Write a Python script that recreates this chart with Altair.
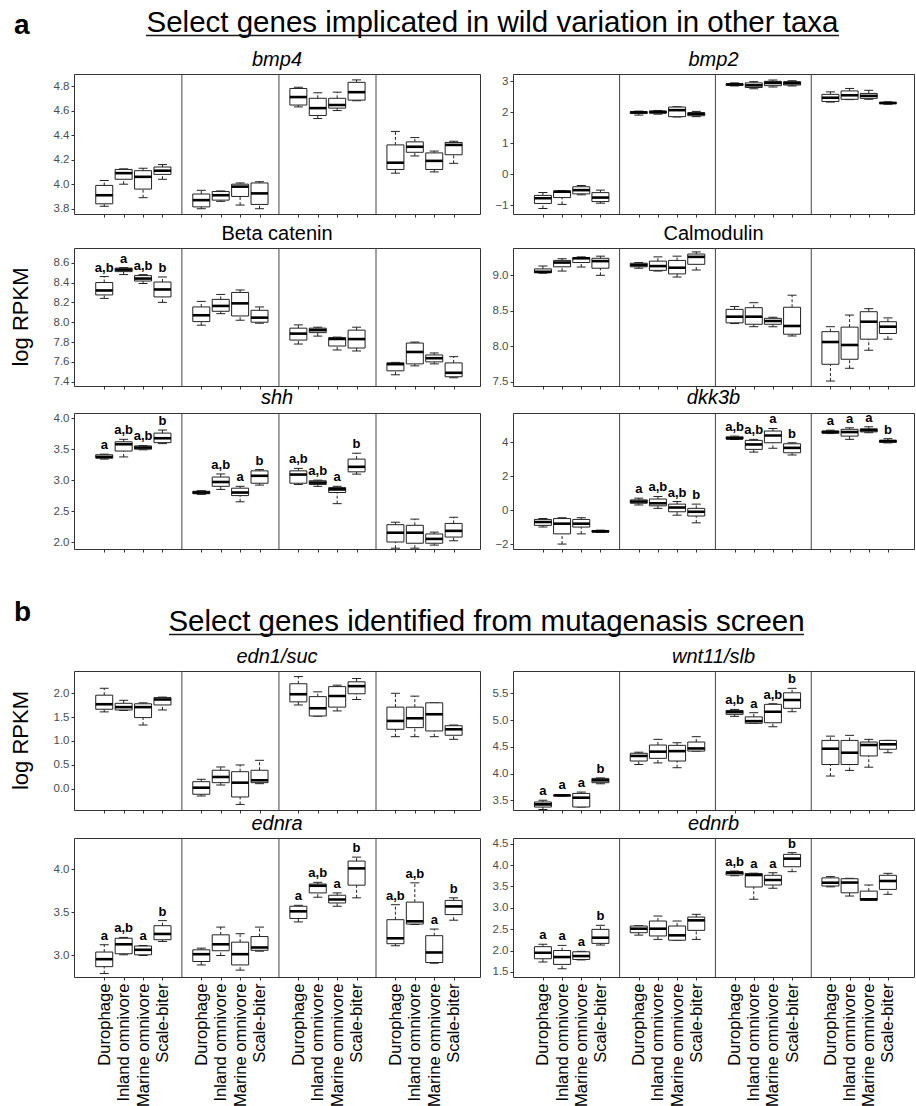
import altair as alt
import pandas as pd

FONT = "Liberation Sans"
DIETS = ["Durophage", "Inland omnivore", "Marine omnivore", "Scale-biter"]

# each box: [lower whisker, Q1, median, Q3, upper whisker]; order stage1 D,I,M,S, stage2 ..., stage4
BMP4 = [[3.82, 3.84, 3.91, 3.99, 4.03], [4.00, 4.04, 4.09, 4.12, 4.125], [3.89, 3.96, 4.06, 4.11, 4.13], [4.04, 4.08, 4.11, 4.14, 4.16],
        [3.80, 3.815, 3.87, 3.92, 3.95], [3.86, 3.87, 3.91, 3.94, 3.945], [3.83, 3.90, 3.98, 4.00, 4.01], [3.80, 3.835, 3.925, 4.01, 4.02],
        [4.63, 4.645, 4.71, 4.78, 4.79], [4.535, 4.56, 4.62, 4.70, 4.745], [4.60, 4.62, 4.645, 4.70, 4.75], [4.68, 4.685, 4.75, 4.83, 4.85],
        [4.09, 4.12, 4.175, 4.32, 4.43], [4.23, 4.26, 4.305, 4.345, 4.38], [4.10, 4.12, 4.19, 4.255, 4.27], [4.17, 4.24, 4.32, 4.34, 4.35]]
BMP2 = [[-1.11, -0.95, -0.78, -0.69, -0.60], [-0.98, -0.76, -0.57, -0.55, -0.54], [-0.67, -0.64, -0.52, -0.41, -0.37], [-0.94, -0.89, -0.76, -0.60, -0.52],
        [1.90, 1.95, 1.99, 2.01, 2.03], [1.93, 1.96, 2.00, 2.03, 2.05], [1.84, 1.85, 2.06, 2.16, 2.17], [1.85, 1.88, 1.94, 1.98, 2.02],
        [2.84, 2.86, 2.89, 2.91, 2.94], [2.75, 2.79, 2.86, 2.94, 2.98], [2.81, 2.85, 2.94, 2.99, 3.03], [2.84, 2.87, 2.93, 2.98, 3.01],
        [2.32, 2.34, 2.46, 2.57, 2.65], [2.40, 2.41, 2.54, 2.68, 2.76], [2.41, 2.44, 2.52, 2.60, 2.70], [2.25, 2.27, 2.29, 2.31, 2.33]]
BETA = [[8.24, 8.275, 8.32, 8.40, 8.46], [8.48, 8.51, 8.53, 8.545, 8.55], [8.39, 8.415, 8.44, 8.47, 8.48], [8.20, 8.255, 8.33, 8.405, 8.456],
        [7.97, 8.006, 8.07, 8.154, 8.21], [8.086, 8.11, 8.164, 8.23, 8.28], [8.02, 8.063, 8.19, 8.30, 8.325], [7.99, 8.00, 8.046, 8.12, 8.154],
        [7.78, 7.82, 7.885, 7.94, 7.973], [7.86, 7.895, 7.92, 7.94, 7.95], [7.72, 7.76, 7.83, 7.845, 7.85], [7.71, 7.74, 7.83, 7.92, 7.95],
        [7.47, 7.51, 7.577, 7.59, 7.595], [7.56, 7.58, 7.70, 7.79, 7.80], [7.58, 7.60, 7.637, 7.67, 7.69], [7.44, 7.45, 7.49, 7.59, 7.653]]
CALM = [[9.03, 9.035, 9.05, 9.09, 9.13], [9.06, 9.12, 9.18, 9.21, 9.234], [9.117, 9.18, 9.24, 9.25, 9.26], [9.00, 9.10, 9.20, 9.24, 9.27],
        [9.10, 9.12, 9.145, 9.17, 9.18], [9.06, 9.07, 9.13, 9.20, 9.26], [8.976, 9.02, 9.107, 9.21, 9.27], [9.075, 9.155, 9.26, 9.30, 9.33],
        [8.32, 8.33, 8.417, 8.52, 8.56], [8.276, 8.31, 8.417, 8.544, 8.614], [8.276, 8.31, 8.356, 8.394, 8.41], [8.145, 8.17, 8.286, 8.55, 8.72],
        [7.51, 7.746, 8.06, 8.206, 8.276], [7.69, 7.817, 8.018, 8.27, 8.44], [7.944, 8.10, 8.346, 8.487, 8.53], [8.10, 8.18, 8.276, 8.346, 8.40]]
SHH = [[3.34, 3.355, 3.375, 3.41, 3.42], [3.375, 3.47, 3.58, 3.62, 3.66], [3.49, 3.50, 3.526, 3.553, 3.56], [3.59, 3.606, 3.677, 3.76, 3.81],
       [2.77, 2.78, 2.80, 2.82, 2.83], [2.85, 2.90, 2.97, 3.05, 3.10], [2.65, 2.75, 2.80, 2.87, 2.90], [2.92, 2.95, 3.07, 3.15, 3.17],
       [2.93, 2.95, 3.09, 3.15, 3.19], [2.90, 2.93, 2.96, 2.99, 3.00], [2.62, 2.80, 2.85, 2.88, 2.90], [3.097, 3.134, 3.215, 3.34, 3.435],
       [1.90, 2.00, 2.15, 2.28, 2.32], [1.90, 1.98, 2.15, 2.27, 2.37], [1.95, 1.98, 2.05, 2.13, 2.16], [2.02, 2.08, 2.18, 2.30, 2.40]]
DKK3B = [[-1.00, -0.90, -0.70, -0.55, -0.50], [-2.00, -1.40, -0.80, -0.50, -0.45], [-1.40, -1.00, -0.80, -0.55, -0.45], [-1.32, -1.30, -1.25, -1.20, -1.18],
         [0.30, 0.40, 0.50, 0.60, 0.70], [0.10, 0.25, 0.40, 0.65, 0.80], [-0.30, -0.10, 0.15, 0.35, 0.50], [-0.75, -0.35, -0.10, 0.10, 0.35],
         [4.15, 4.18, 4.22, 4.31, 4.35], [3.41, 3.57, 3.86, 4.10, 4.16], [3.63, 3.96, 4.39, 4.65, 4.80], [3.24, 3.37, 3.66, 3.90, 3.96],
         [4.50, 4.52, 4.59, 4.65, 4.70], [4.16, 4.35, 4.59, 4.75, 4.84], [4.55, 4.60, 4.70, 4.78, 4.90], [3.95, 3.98, 4.06, 4.10, 4.20]]
EDN1 = [[1.61, 1.665, 1.77, 1.96, 2.105], [1.64, 1.65, 1.71, 1.79, 1.853], [1.335, 1.49, 1.71, 1.78, 1.80], [1.65, 1.755, 1.87, 1.91, 1.92],
        [-0.153, -0.117, 0.021, 0.147, 0.197], [0.077, 0.126, 0.245, 0.386, 0.455], [-0.33, -0.174, 0.126, 0.356, 0.497], [0.105, 0.126, 0.176, 0.386, 0.595],
        [1.755, 1.82, 1.98, 2.20, 2.35], [1.52, 1.524, 1.686, 1.93, 2.03], [1.63, 1.71, 1.943, 2.14, 2.17], [1.87, 1.99, 2.15, 2.24, 2.31],
        [1.09, 1.245, 1.42, 1.71, 2.00], [1.09, 1.28, 1.476, 1.71, 1.94], [1.09, 1.21, 1.56, 1.80, 1.80], [1.035, 1.12, 1.245, 1.32, 1.335]]
WNT11 = [[3.33, 3.375, 3.425, 3.47, 3.50], [3.58, 3.585, 3.593, 3.60, 3.61], [3.375, 3.376, 3.55, 3.63, 3.655], [3.81, 3.83, 3.874, 3.91, 3.92],
         [4.17, 4.235, 4.33, 4.38, 4.40], [4.20, 4.285, 4.41, 4.534, 4.64], [4.11, 4.235, 4.42, 4.528, 4.577], [4.42, 4.421, 4.47, 4.59, 4.69],
         [5.07, 5.107, 5.15, 5.18, 5.20], [4.94, 4.941, 4.98, 5.06, 5.138], [4.876, 4.95, 5.156, 5.294, 5.306], [5.156, 5.22, 5.375, 5.51, 5.593],
         [3.955, 4.17, 4.465, 4.62, 4.70], [4.06, 4.17, 4.39, 4.62, 4.715], [4.12, 4.33, 4.534, 4.59, 4.64], [4.39, 4.455, 4.547, 4.62, 4.621]]
EDNRA = [[2.79, 2.87, 2.957, 3.04, 3.125], [3.008, 3.02, 3.13, 3.20, 3.21], [3.00, 3.008, 3.066, 3.11, 3.116], [3.163, 3.183, 3.25, 3.346, 3.405],
         [2.89, 2.93, 3.015, 3.066, 3.085], [3.00, 3.055, 3.13, 3.24, 3.33], [2.83, 2.89, 3.015, 3.155, 3.253], [3.05, 3.06, 3.093, 3.22, 3.33],
         [3.39, 3.43, 3.513, 3.572, 3.583], [3.677, 3.727, 3.81, 3.83, 3.85], [3.572, 3.61, 3.65, 3.70, 3.727], [3.67, 3.817, 4.012, 4.097, 4.143],
         [3.113, 3.137, 3.20, 3.416, 3.59], [3.36, 3.365, 3.397, 3.62, 3.844], [2.91, 2.918, 3.035, 3.23, 3.307], [3.41, 3.475, 3.57, 3.64, 3.67]]
EDNRB = [[1.73, 1.807, 1.947, 2.09, 2.144], [1.573, 1.675, 1.847, 2.00, 2.12], [1.78, 1.79, 1.87, 1.97, 1.98], [2.128, 2.167, 2.30, 2.495, 2.59],
         [2.36, 2.416, 2.51, 2.573, 2.58], [2.26, 2.34, 2.51, 2.69, 2.807], [2.24, 2.241, 2.355, 2.573, 2.69], [2.26, 2.472, 2.706, 2.783, 2.847],
         [3.75, 3.767, 3.82, 3.844, 3.86], [3.20, 3.486, 3.767, 3.80, 3.81], [3.455, 3.533, 3.65, 3.76, 3.82], [3.845, 3.96, 4.15, 4.25, 4.29],
         [3.49, 3.51, 3.587, 3.70, 3.73], [3.275, 3.35, 3.59, 3.68, 3.69], [3.17, 3.175, 3.198, 3.39, 3.533], [3.315, 3.43, 3.627, 3.76, 3.806]]

NONE16 = [""] * 16
LET_BETA = ["a,b", "a", "a,b", "b"] + [""] * 12
LET_SHH = ["a", "a,b", "a,b", "b", "", "a,b", "a", "b", "a,b", "a,b", "a", "b", "", "", "", ""]
LET_DKK = ["", "", "", "", "a", "a,b", "a,b", "b", "a,b", "a,b", "a", "b", "a", "a", "a", "b"]
LET_WNT = ["a", "a", "a", "b", "", "", "", "", "a,b", "a", "a,b", "b", "", "", "", ""]
LET_EDNRA = ["a", "a,b", "a", "b", "", "", "", "", "a", "a,b", "a", "b", "a,b", "a,b", "a", "b"]
LET_EDNRB = ["a", "a", "a", "b", "", "", "", "", "a,b", "a", "a", "b", "", "", "", ""]

TITLE_A = "Select genes implicated in wild variation in other taxa"
TITLE_B = "Select genes identified from mutagenasis screen"

XTICKS = [s * 5 + d + 1 for s in range(4) for d in range(4)]
SEPS = [5, 10, 15]
LINE = "#222222"
LW, RW = 406, 401


def txt(t, x, y, **kw):
    return alt.Chart(pd.DataFrame({"t": [t]})).mark_text(font=FONT, color="black", **kw).encode(
        x=alt.value(x), y=alt.value(y), text="t:N")


def hrule(x1, x2, y, **kw):
    return alt.Chart(pd.DataFrame({"a": [0]})).mark_rule(**kw).encode(
        x=alt.value(x1), x2=alt.value(x2), y=alt.value(y), y2=alt.value(y))


def header_layers(letter, title, letter_y, title_x, title_y, ul_x1, ul_x2, ul_y):
    return [
        txt(letter, -60, letter_y, fontSize=28, fontWeight="bold", align="left", baseline="alphabetic"),
        txt(title, title_x, title_y, fontSize=29.5, align="center", baseline="alphabetic"),
        hrule(ul_x1, ul_x2, ul_y, color="#1a1a1a", strokeWidth=1.5),
    ]


def panel(title, boxes, sig, domain, yticks, yfmt, w, h, italic, xlabels, extra=None):
    rows = []
    for i, (b, s) in enumerate(zip(boxes, sig)):
        st, d = divmod(i, 4)
        rows.append(dict(pos=st * 5 + d + 1, lo=b[0], q1=b[1], med=b[2], q3=b[3], hi=b[4], sig=s))
    df = pd.DataFrame(rows)
    xaxis = alt.Axis(values=XTICKS, labels=xlabels, ticks=True, tickSize=3, tickColor="#333333",
                     domain=False, grid=False, title=None, labelAngle=270, labelFontSize=16.6,
                     labelColor="black", labelFont=FONT, labelPadding=3,
                     labelExpr="['', 'Durophage', 'Inland omnivore', 'Marine omnivore', 'Scale-biter'][datum.value % 5]")
    X = alt.X("pos:Q", scale=alt.Scale(domain=[-0.3, 20.1], nice=False, zero=False), axis=xaxis)
    yscale = alt.Scale(domain=domain, nice=False, zero=False)
    yaxis = alt.Axis(values=yticks, format=yfmt, title=None, grid=False, domain=False, tickSize=3,
                     tickColor="#333333", labelColor="#4d4d4d", labelFontSize=11.5, labelFont=FONT, labelPadding=2)
    base = alt.Chart(df)
    seps = alt.Chart(pd.DataFrame({"pos": SEPS})).mark_rule(color="#444444", strokeWidth=1).encode(x=X)
    w_lo = base.mark_rule(color=LINE, strokeWidth=1, strokeDash=[3, 2]).encode(
        x=X, y=alt.Y("lo:Q", scale=yscale, axis=yaxis), y2="q1:Q")
    w_hi = base.mark_rule(color=LINE, strokeWidth=1, strokeDash=[3, 2]).encode(
        x=X, y=alt.Y("q3:Q", scale=yscale, axis=yaxis), y2="hi:Q")
    c_lo = base.mark_tick(orient="horizontal", size=9, thickness=1, color=LINE, opacity=1).encode(
        x=X, y=alt.Y("lo:Q", scale=yscale, axis=yaxis))
    c_hi = base.mark_tick(orient="horizontal", size=9, thickness=1, color=LINE, opacity=1).encode(
        x=X, y=alt.Y("hi:Q", scale=yscale, axis=yaxis))
    box = base.mark_bar(size=17, fill="white", stroke=LINE, strokeWidth=1).encode(
        x=X, y=alt.Y("q1:Q", scale=yscale, axis=yaxis), y2="q3:Q")
    med = base.mark_tick(orient="horizontal", size=17, thickness=2.6, color="black", opacity=1).encode(
        x=X, y=alt.Y("med:Q", scale=yscale, axis=yaxis))
    lets = base.transform_filter("datum.sig != ''").mark_text(
        fontWeight="bold", fontSize=13, font=FONT, baseline="bottom", dy=-2, color="black").encode(
        x=X, y=alt.Y("hi:Q", scale=yscale, axis=yaxis), text="sig:N")
    layers = [seps, w_lo, w_hi, c_lo, c_hi, box, med, lets] + (extra or [])
    return alt.layer(*layers).properties(
        width=w, height=h,
        title=alt.TitleParams(title, font=FONT, fontSize=20, fontStyle="italic" if italic else "normal",
                              fontWeight="normal", anchor="middle", offset=4, color="black"))


def spacer(w, h, extra=None):
    layers = [hrule(0, 1, 0, strokeOpacity=0, color="white")] + (extra or [])
    return alt.layer(*layers).properties(width=w, height=h, view=alt.ViewBackground(stroke="transparent"))


def ylab(h):
    return txt("log RPKM", -53, h / 2, angle=270, fontSize=22, align="center", baseline="middle")


H1, H2, H3, H4, H5 = 140, 138, 136, 139, 139
G0, G12, G23, G3B, GB12 = 73, 34, 27, 122, 28

# header a: its own top row; the invisible rule pins the page's left/top edge
head_a = [alt.Chart(pd.DataFrame({"a": [0]})).mark_rule(strokeOpacity=0, color="white").encode(
    x=alt.value(-73), x2=alt.value(-73), y=alt.value(0), y2=alt.value(1))] + \
    header_layers("a", TITLE_A, 33, 418.5, 31, 72, 765, 34.5)
head_b = header_layers("b", TITLE_B, 72, 412.5, 82, 95, 730, 85.5)

f1 = [3.8, 4.0, 4.2, 4.4, 4.6, 4.8]
p_bmp4 = panel("bmp4", BMP4, NONE16, [3.757, 4.898], f1, ".1f", LW, H1, True, False)
p_bmp2 = panel("bmp2", BMP2, NONE16, [-1.29, 3.226], [-1, 0, 1, 2, 3], "d", RW, H1, True, False)
p_beta = panel("Beta catenin", BETA, LET_BETA, [7.357, 8.748], [7.4, 7.6, 7.8, 8.0, 8.2, 8.4, 8.6], ".1f", LW, H2, False, False, extra=[ylab(H2)])
p_calm = panel("Calmodulin", CALM, NONE16, [7.44, 9.385], [7.5, 8.0, 8.5, 9.0], ".1f", RW, H2, False, False)
p_shh = panel("shh", SHH, LET_SHH, [1.887, 4.085], [2.0, 2.5, 3.0, 3.5, 4.0], ".1f", LW, H3, True, False)
p_dkk = panel("dkk3b", DKK3B, LET_DKK, [-2.29, 5.71], [-2, 0, 2, 4], "d", RW, H3, True, False)
p_edn1 = panel("edn1/suc", EDN1, NONE16, [-0.447, 2.467], [0.0, 0.5, 1.0, 1.5, 2.0], ".1f", LW, H4, True, False, extra=[ylab(H4)])
p_wnt = panel("wnt11/slb", WNT11, LET_WNT, [3.32, 5.917], [3.5, 4.0, 4.5, 5.0, 5.5], ".1f", RW, H4, True, False)
p_ednra = panel("ednra", EDNRA, LET_EDNRA, [2.75, 4.365], [3.0, 3.5, 4.0], ".1f", LW, H5, True, True)
p_ednrb = panel("ednrb", EDNRB, LET_EDNRB, [1.38, 4.633], [1.5, 2.0, 2.5, 3.0, 3.5, 4.0, 4.5], ".1f", RW, H5, True, True)

cells = [
    spacer(LW, G0, extra=head_a), spacer(RW, G0),
    p_bmp4, p_bmp2,
    spacer(LW, G12), spacer(RW, G12),
    p_beta, p_calm,
    spacer(LW, G23), spacer(RW, G23),
    p_shh, p_dkk,
    spacer(LW, G3B, extra=head_b), spacer(RW, G3B),
    p_edn1, p_wnt,
    spacer(LW, GB12), spacer(RW, GB12),
    p_ednra, p_ednrb,
]

chart = alt.concat(*cells, columns=2, spacing={"row": 0, "column": 33}, bounds="flush").properties(
    padding=0, background="white"
).configure_view(stroke="#333333", strokeWidth=1)

chart.save("out.html", embed_options={"renderer": "svg", "actions": False})
